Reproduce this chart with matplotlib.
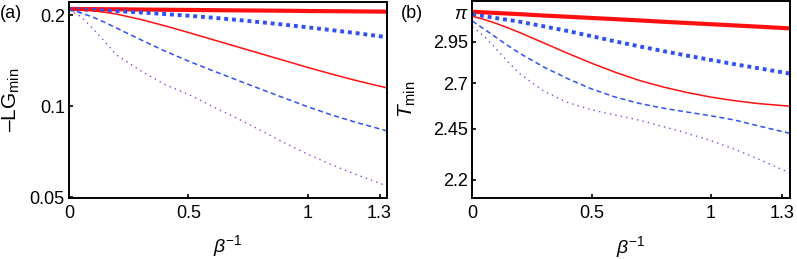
import matplotlib
matplotlib.use('Agg')
import matplotlib.pyplot as plt
from matplotlib.ticker import FixedLocator, FixedFormatter, NullLocator

plt.rcParams['font.family'] = 'Liberation Sans'
plt.rcParams['mathtext.fontset'] = 'custom'
plt.rcParams['mathtext.rm'] = 'Liberation Sans'
plt.rcParams['mathtext.it'] = 'Liberation Sans:italic'
plt.rcParams['font.size'] = 13

# inverse temperature grid (beta^-1)
beta = [0, 0.05, 0.1, 0.15, 0.2, 0.3, 0.4, 0.5, 0.6, 0.7, 0.8, 0.9, 1.0, 1.1, 1.2, 1.33]

# panel (a): -LG_min
lg_red_thick = [0.2098, 0.2096, 0.2095, 0.2093, 0.2092, 0.2088, 0.2085, 0.2082, 0.2078, 0.2075, 0.2072, 0.2069, 0.2065, 0.2062, 0.2059, 0.2055]
lg_blue_thick = [0.2093, 0.2089, 0.2083, 0.2074, 0.2064, 0.2042, 0.2018, 0.1992, 0.1963, 0.1931, 0.1897, 0.1861, 0.1823, 0.1785, 0.1746, 0.1692]
lg_red_thin = [0.2093, 0.2085, 0.2069, 0.2046, 0.2016, 0.1937, 0.1846, 0.1753, 0.1662, 0.1576, 0.1494, 0.1417, 0.1343, 0.1277, 0.1217, 0.1150]
lg_blue_dash = [0.2082, 0.2036, 0.1971, 0.1893, 0.1812, 0.1659, 0.1524, 0.1410, 0.1312, 0.1223, 0.1141, 0.1065, 0.0995, 0.0935, 0.0885, 0.0829]
lg_purple = [0.2082, 0.1978, 0.1805, 0.1635, 0.1475, 0.1310, 0.1181, 0.1095, 0.0999, 0.0915, 0.0834, 0.0758, 0.0693, 0.0640, 0.0595, 0.0545]

# panel (b): T_min
t_red_thick = [3.144, 3.140, 3.136, 3.132, 3.128, 3.119, 3.111, 3.103, 3.095, 3.087, 3.078, 3.070, 3.062, 3.054, 3.046, 3.035]
t_blue_thick = [3.127, 3.115, 3.102, 3.090, 3.078, 3.048, 3.018, 2.985, 2.952, 2.921, 2.892, 2.864, 2.838, 2.812, 2.788, 2.757]
t_red_thin = [3.114, 3.093, 3.067, 3.038, 3.007, 2.942, 2.878, 2.818, 2.764, 2.717, 2.679, 2.648, 2.622, 2.602, 2.586, 2.572]
t_blue_dash = [3.083, 3.03, 2.977, 2.925, 2.877, 2.795, 2.727, 2.668, 2.622, 2.587, 2.561, 2.540, 2.520, 2.497, 2.466, 2.428]
t_purple = [3.045, 2.985, 2.905, 2.825, 2.755, 2.655, 2.592, 2.552, 2.524, 2.496, 2.463, 2.428, 2.390, 2.347, 2.298, 2.232]

xticks = [0, 0.5, 1, 1.3]
xtick_labels = ['0', '0.5', '1', '1.3']
lg_ticks = [0.05, 0.1, 0.2]
lg_tick_labels = ['0.05', '0.1', '0.2']
t_ticks = [2.2, 2.45, 2.7, 2.95, 3.14159265]
t_tick_labels = ['2.2', '2.45', '2.7', '2.95', r'$\pi$']

red = '#ff1010'
blue = '#3050f0'
purple = '#9040e0'
styles = [
    dict(color=red, lw=3.0, ls='-'),
    dict(color=blue, lw=2.8, ls=(0, (1, 1)), dash_capstyle='butt'),
    dict(color=red, lw=1.1, ls='-'),
    dict(color=blue, lw=1.1, ls=(0, (3.3, 2.2)), dash_capstyle='butt'),
    dict(color=purple, lw=1.0, ls=(0, (1, 3)), dash_capstyle='butt'),
]

fig = plt.figure(figsize=(7.97, 2.59), dpi=100)
axA = fig.add_axes([69 / 797, (259 - 197.7) / 259, (386.7 - 69) / 797, (197.7 - 1.5) / 259])
axB = fig.add_axes([472.3 / 797, (259 - 198.3) / 259, (789.5 - 472.3) / 797, (198.3 - 1) / 259])

for s, y in zip(styles, [lg_red_thick, lg_blue_thick, lg_red_thin, lg_blue_dash, lg_purple]):
    axA.plot(beta, y, **s)
for s, y in zip(styles, [t_red_thick, t_blue_thick, t_red_thin, t_blue_dash, t_purple]):
    axB.plot(beta, y, **s)

axA.set_yscale('log')
axA.set_ylim(0.0498, 0.222)
axB.set_yscale('log')
axB.set_ylim(2.114, 3.217)

for ax, tk, tl in [(axA, lg_ticks, lg_tick_labels), (axB, t_ticks, t_tick_labels)]:
    ax.set_xlim(0, 1.33)
    ax.set_xticks(xticks)
    ax.set_xticklabels(xtick_labels)
    ax.yaxis.set_major_locator(FixedLocator(tk))
    ax.yaxis.set_major_formatter(FixedFormatter(tl))
    ax.yaxis.set_minor_locator(NullLocator())
    ax.tick_params(direction='in', length=3, width=1.2, pad=3, labelsize=13)
    ax.tick_params(axis='x', pad=5)
    for sp in ax.spines.values():
        sp.set_linewidth(1.4)
    ax.set_xlabel(r'$\beta^{-1}$', fontsize=14)

axA.set_ylabel('\u2013LG$_{\\mathrm{min}}$', fontsize=15)
axB.set_ylabel(r'$T_{\mathrm{min}}$', fontsize=15)
axA.yaxis.set_label_coords(-0.148, 0.5)
axB.yaxis.set_label_coords(-0.171, 0.5)
axA.xaxis.set_label_coords(0.5, -0.18)
axB.xaxis.set_label_coords(0.5, -0.18)

fig.text(0 / 797, 1 - 14 / 259, '(a)', va='center', ha='left', fontsize=13)
fig.text(401 / 797, 1 - 14 / 259, '(b)', va='center', ha='left', fontsize=13)

fig.savefig('out.png', dpi=100)
